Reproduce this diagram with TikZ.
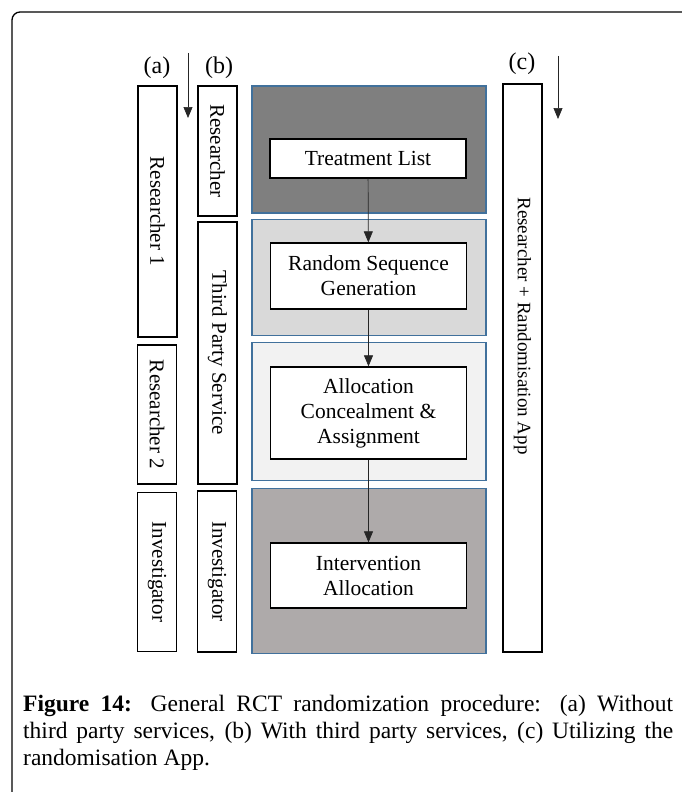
\documentclass[tikz,border=0pt]{standalone}
\usepackage{fontspec}
\setmainfont{Liberation Serif}
\usetikzlibrary{arrows.meta, positioning}

\definecolor{panelblue}{HTML}{41719C}
\definecolor{panelA}{HTML}{7F7F7F}
\definecolor{panelB}{HTML}{D9D9D9}
\definecolor{panelC}{HTML}{F2F2F2}
\definecolor{panelD}{HTML}{AEAAAA}

\begin{document}
\begin{tikzpicture}[
    x=1pt, y=-1pt,
    node distance=6pt and 5pt,
    lane/.style = {rectangle, draw, line width=1.2pt, rotate=-90, minimum height=39pt, inner sep=0pt, font=\fontsize{21}{25}\selectfont},
    panel/.style = {rectangle, draw=panelblue, line width=1.1pt, minimum width=234pt, inner sep=0pt},
    process/.style = {rectangle, draw, fill=white, line width=1.3pt, minimum width=196pt, align=center, inner sep=0pt, font=\fontsize{21.5}{25}\selectfont},
    tag/.style = {font=\fontsize{24}{24}\selectfont, inner sep=0pt},
    flow/.style = {-{Triangle[width=9pt,length=11pt]}, line width=0.7pt, draw=black!85},
    >=Stealth]

\useasboundingbox (0,0) rectangle (681,792);

% frame
\draw[line width=1.3pt, rounded corners=8pt] (12,820) -- (12,12) -- (720,12);

% panels
\node[panel, fill=panelA, minimum height=127pt] (P1) at (369,149.5) {};
\node[panel, fill=panelB, minimum height=116pt, below=5pt of P1] (P2) {};
\node[panel, fill=panelC, minimum height=138pt, below=6.5pt of P2] (P3) {};
\node[panel, fill=panelD, minimum height=165pt, below=6.5pt of P3] (P4) {};

% steps
\node[process, minimum height=39pt] (TL) at (368,158.5) {Treatment List};
\node[process, minimum height=66pt] (RSG) at (368.5,276) {Random Sequence\\Generation};
\node[process, minimum height=92pt] (ACA) at (368.5,413) {Allocation\\Concealment \&\\Assignment};
\node[process, minimum height=65pt] (IA) at (368.5,575.5) {Intervention\\Allocation};

% lanes (a)
\node[lane, minimum width=251pt] (R1) at (157.5,211.5) {Researcher 1};
\node[lane, minimum width=139pt] (R2) at (157,414.5) {Researcher 2};
\node[lane, minimum width=159pt] (INa) at (157,572) {Investigator};

% lanes (b)
\node[lane, minimum width=130pt] (Rb) at (217.5,151) {Researcher};
\node[lane, minimum width=262pt] (TPS) at (217.5,353) {Third Party Service};
\node[lane, minimum width=161pt] (INb) at (217,571.5) {Investigator};

% lane (c)
\node[lane, minimum width=568pt] (APP) at (522.5,368) {};
\node[rotate=-90, inner sep=0pt, font=\fontsize{19}{19}\selectfont] (APPtext) at (522.5,326) {Researcher + Randomisation App};

% tags
\node[tag] (ta) at (157,68) {(a)};
\node[tag] (tb) at (219,68) {(b)};
\node[tag] (tc) at (522,64) {(c)};

\coordinate (a0) at (188,53);
\coordinate (a1) at (188,118);
\coordinate (c0) at (558,56);
\coordinate (c1) at (558,119);

% caption
\node[anchor=north west, text width=650pt, align=justify, inner sep=0pt, font=\fontsize{23.5}{27}\selectfont] (CAP) at (23,695) {\textbf{Figure 14:} General RCT randomization procedure: (a) Without\linebreak third party services, (b) With third party services, (c) Utilizing the\linebreak randomisation App.};

%connectors
\draw[flow] (TL) -- (RSG);
\draw[flow] (RSG) -- (ACA);
\draw[flow] (ACA) -- (IA);
\draw[flow] (a0) -- (a1);
\draw[flow] (c0) -- (c1);
\end{tikzpicture}
\end{document}
